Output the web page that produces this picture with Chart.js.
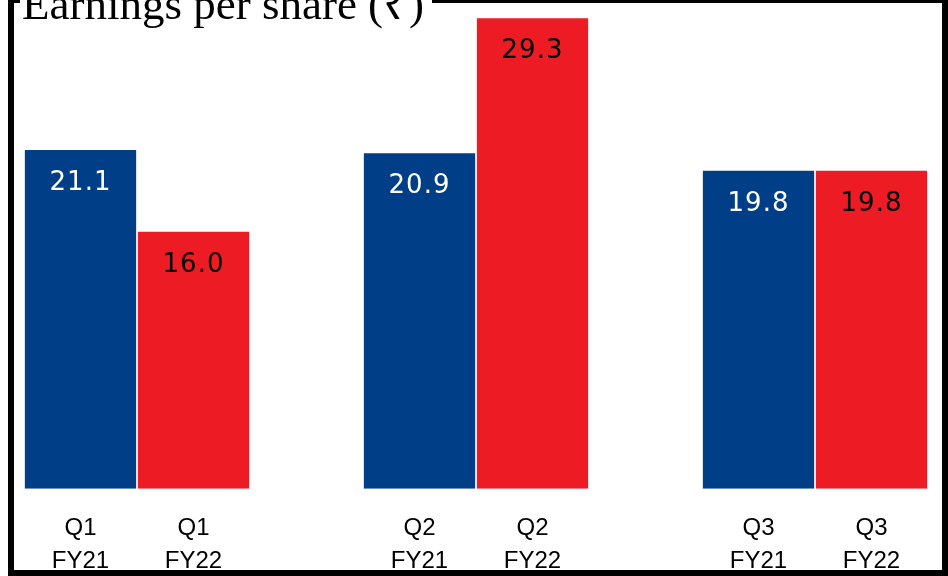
<!DOCTYPE html>
<html>
<head>
<meta charset="utf-8">
<script src="https://cdn.jsdelivr.net/npm/chart.js@4"></script>
<style>
body { margin: 0; background: #fff; }
</style>
</head>
<body>
<canvas id="graficoEPS" width="948" height="576"></canvas>
<script>
var titulo = 'Earnings per share (\u20B9)';
var trimestres = ['Q1', 'Q2', 'Q3'];
var anos = ['FY21', 'FY22'];
var valoresFY21 = [21.1, 20.9, 19.8];
var valoresFY22 = [16.0, 29.3, 19.8];

var corFY21 = '#003f87';
var corFY22 = '#ed1c24';

// monta 8 posicoes: 2 barras por trimestre e um espaco vazio entre grupos
var arrLabels = [];
var arrValores = [];
var arrCores = [];
var arrCorTexto = [];
for (var i in trimestres) {
    if (i > 0) {
        arrLabels.push('');
        arrValores.push(null);
        arrCores.push('transparent');
        arrCorTexto.push(null);
    }
    arrLabels.push([trimestres[i], anos[0]]);
    arrValores.push(valoresFY21[i]);
    arrCores.push(corFY21);
    arrCorTexto.push('#ffffff');
    arrLabels.push([trimestres[i], anos[1]]);
    arrValores.push(valoresFY22[i]);
    arrCores.push(corFY22);
    arrCorTexto.push('#000000');
}

var pluginValores = {
    id: 'valores',
    afterDatasetsDraw: function(chart) {
        var ctx = chart.ctx;
        var meta = chart.getDatasetMeta(0);
        ctx.save();
        ctx.font = '26px "DejaVu Sans"';
        ctx.letterSpacing = '1px';
        ctx.textAlign = 'center';
        ctx.textBaseline = 'middle';
        meta.data.forEach(function(barra, idx) {
            var v = arrValores[idx];
            if (v === null) return;
            ctx.fillStyle = arrCorTexto[idx];
            ctx.fillText(v.toFixed(1), barra.x, barra.y + 33);
        });
        ctx.restore();
    }
};

var pluginMoldura = {
    id: 'moldura',
    afterDraw: function(chart) {
        var ctx = chart.ctx;
        ctx.save();
        ctx.fillStyle = '#000000';
        ctx.fillRect(8, 0, 6, 576);
        ctx.fillRect(942, 0, 6, 576);
        ctx.fillRect(8, 570, 940, 6);
        ctx.fillRect(8, 0, 940, 3);
        ctx.fillStyle = '#ffffff';
        ctx.fillRect(20, 0, 412, 3);
        ctx.fillStyle = '#000000';
        ctx.font = '45px "Liberation Serif"';
        ctx.textAlign = 'left';
        ctx.textBaseline = 'alphabetic';
        ctx.fillText(titulo, 22, 19);
        ctx.restore();
    }
};

new Chart(document.getElementById('graficoEPS'), {
    type: 'bar',
    data: {
        labels: arrLabels,
        datasets: [{
            data: arrValores,
            backgroundColor: arrCores,
            borderWidth: 0,
            barPercentage: 1,
            categoryPercentage: 0.985
        }]
    },
    options: {
        responsive: false,
        animation: false,
        layout: { padding: { left: 24, right: 20, top: 7, bottom: -25 } },
        plugins: {
            legend: { display: false },
            tooltip: { enabled: false }
        },
        scales: {
            x: {
                grid: { display: false, drawTicks: false },
                border: { display: false },
                ticks: {
                    color: '#000000',
                    padding: 23,
                    maxRotation: 0,
                    autoSkip: false,
                    font: { family: '"Liberation Sans"', size: 24, lineHeight: 1.38 }
                }
            },
            y: {
                display: false,
                min: 0,
                max: 30
            }
        }
    },
    plugins: [pluginValores, pluginMoldura]
});
</script>
</body>
</html>
